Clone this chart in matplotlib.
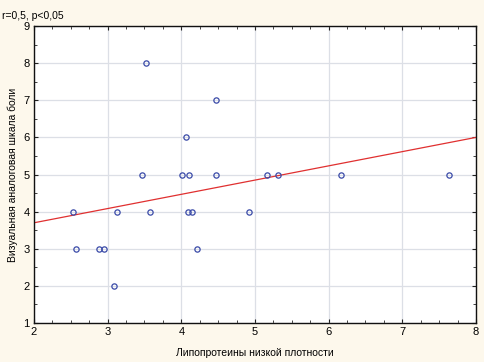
import matplotlib
matplotlib.use("Agg")
import matplotlib.pyplot as plt
from matplotlib.ticker import MultipleLocator

plt.rcParams['font.family'] = ['Liberation Sans', 'DejaVu Sans']

# values
ldl = [2.53, 2.57, 2.88, 2.95, 3.09, 3.13, 3.46, 3.52, 3.57, 4.01, 4.06, 4.11,
       4.09, 4.14, 4.21, 4.47, 4.47, 4.92, 5.16, 5.31, 6.17, 7.63]
vas = [4, 3, 3, 3, 2, 4, 5, 8, 4, 5, 6, 5,
       4, 4, 3, 7, 5, 4, 5, 5, 5, 5]

# regression line (as drawn)
fit_x = [2, 8]
fit_y = [3.70, 6.00]

title = "r=0,5, p<0,05"
xlabel = "Липопротеины низкой плотности"
ylabel = "Визуальная аналоговая шкала боли"

bg = '#fdf8ec'
fig = plt.figure(figsize=(4.85, 3.62), dpi=100, facecolor=bg)
ax = fig.add_axes([0.0701, 0.1077, 0.9113, 0.8204])
ax.set_facecolor('white')

ax.plot(fit_x, fit_y, color='#e03030', lw=0.9, zorder=2)
ax.plot(ldl, vas, 'o', mfc='none', mec='#3a4aa8', mew=0.9, ms=3.8, zorder=3)

ax.set_xlim(2, 8)
ax.set_ylim(1, 9)
ax.xaxis.set_major_locator(MultipleLocator(1))
ax.yaxis.set_major_locator(MultipleLocator(1))
ax.xaxis.set_minor_locator(MultipleLocator(0.25))
ax.yaxis.set_minor_locator(MultipleLocator(0.5))
ax.grid(True, which='major', color='#dcdfe6', lw=0.9, zorder=0)
ax.set_axisbelow(True)

ax.tick_params(which='both', direction='in', top=True, right=True,
               labelsize=8, color='#222222', pad=3)
ax.tick_params(which='major', length=3, width=0.8)
ax.tick_params(which='minor', length=2, width=0.6)
for s in ax.spines.values():
    s.set_color('#111111')
    s.set_linewidth(1.0)

ax.set_xlabel(xlabel, fontsize=7.5, labelpad=8)
ax.set_ylabel(ylabel, fontsize=7.5, labelpad=4)
fig.text(0.004, 0.943, title, fontsize=7.5, ha='left', va='bottom')

fig.savefig("out.png", dpi=100, facecolor=bg)
